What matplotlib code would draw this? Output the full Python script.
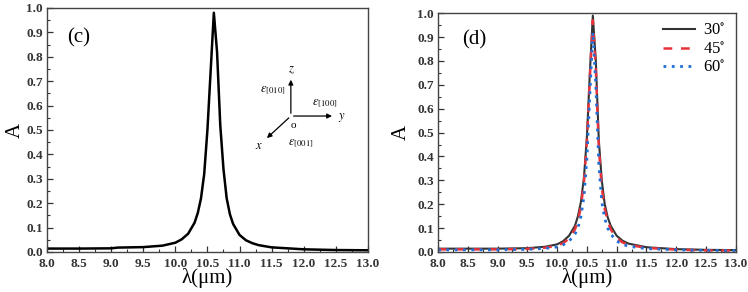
import matplotlib
matplotlib.use("Agg")
import matplotlib.pyplot as plt
from matplotlib.ticker import MultipleLocator, FormatStrFormatter

plt.rcParams['font.family'] = ['Liberation Serif', 'DejaVu Serif']
plt.rcParams['mathtext.fontset'] = 'stix'

# panel (c): single absorption curve
wl_c = [8.0, 8.5, 9.0, 9.1, 9.5, 9.8, 10.0, 10.1, 10.2, 10.3, 10.35, 10.4, 10.45,
        10.5, 10.55, 10.6, 10.65, 10.7, 10.75, 10.8, 10.85, 10.9, 11.0, 11.1,
        11.2, 11.3, 11.5, 12.0, 12.5, 13.0]
a_c = [0.014, 0.014, 0.015, 0.018, 0.020, 0.026, 0.038, 0.052, 0.075, 0.12, 0.16,
       0.22, 0.32, 0.50, 0.74, 0.98, 0.82, 0.52, 0.34, 0.22, 0.155, 0.115, 0.07,
       0.048, 0.036, 0.028, 0.019, 0.011, 0.008, 0.007]

# panel (d): three incidence angles
wl_d = [8.0, 9.0, 9.5, 9.8, 10.0, 10.1, 10.2, 10.3, 10.35, 10.4, 10.45, 10.5,
        10.55, 10.6, 10.65, 10.7, 10.75, 10.8, 10.85, 10.9, 11.0, 11.1, 11.2,
        11.5, 12.0, 12.5, 13.0]
a_30 = [0.014, 0.014, 0.016, 0.022, 0.032, 0.045, 0.068, 0.11, 0.15, 0.21, 0.31,
        0.48, 0.75, 0.99, 0.80, 0.47, 0.30, 0.20, 0.145, 0.11, 0.068, 0.047,
        0.035, 0.020, 0.012, 0.009, 0.008]
a_45 = [0.011, 0.011, 0.013, 0.018, 0.026, 0.037, 0.056, 0.095, 0.13, 0.19, 0.29,
        0.46, 0.73, 0.97, 0.77, 0.44, 0.27, 0.18, 0.13, 0.095, 0.058, 0.040,
        0.030, 0.017, 0.010, 0.007, 0.006]
a_60 = [0.009, 0.009, 0.011, 0.015, 0.021, 0.030, 0.045, 0.075, 0.10, 0.15, 0.23,
        0.39, 0.66, 0.92, 0.70, 0.37, 0.21, 0.14, 0.10, 0.075, 0.046, 0.032,
        0.024, 0.014, 0.009, 0.007, 0.006]
angles = [r'30$^{\circ}$', r'45$^{\circ}$', r'60$^{\circ}$']

fig = plt.figure(figsize=(7.48, 2.92), dpi=100)
ax1 = fig.add_axes([0.0628, 0.137, 0.429, 0.836])
ax2 = fig.add_axes([0.5856, 0.137, 0.398, 0.818])


def style(ax, ylab_x):
    ax.set_xlim(8.0, 13.0)
    ax.set_ylim(0.0, 1.0)
    ax.xaxis.set_major_locator(MultipleLocator(0.5))
    ax.xaxis.set_minor_locator(MultipleLocator(0.25))
    ax.yaxis.set_major_locator(MultipleLocator(0.1))
    ax.yaxis.set_minor_locator(MultipleLocator(0.05))
    ax.xaxis.set_major_formatter(FormatStrFormatter('%.1f'))
    ax.yaxis.set_major_formatter(FormatStrFormatter('%.1f'))
    ax.tick_params(which='both', direction='in', top=False, right=False,
                   labelsize=9.5, colors='#333333')
    ax.tick_params(axis='x', pad=4)
    ax.tick_params(axis='y', pad=3)
    ax.tick_params(which='major', length=4, width=0.9)
    ax.tick_params(which='minor', length=2.5, width=0.8)
    for lab in ax.get_xticklabels() + ax.get_yticklabels():
        lab.set_fontweight('bold')
    for s in ax.spines.values():
        s.set_color('#444444')
        s.set_linewidth(1.0)
    ax.set_xlabel(u'λ(μm)', fontsize=15, labelpad=-1)
    ax.set_ylabel('A', fontsize=15)
    ax.yaxis.set_label_coords(ylab_x, 0.5)


style(ax1, -0.07)
ax1.plot(wl_c, a_c, color='black', lw=1.8)
ax1.text(0.10, 0.877, '(c)', transform=ax1.transAxes, fontsize=15,
         ha='center', va='center')

# coordinate sketch
o = (0.76, 0.557)
arr = dict(arrowstyle='-|>', color='black', lw=0.9, mutation_scale=7)
for tip in [(0.76, 0.717), (0.897, 0.557), (0.679, 0.459)]:
    ax1.annotate('', xy=tip, xytext=o, xycoords='axes fraction',
                 textcoords='axes fraction', arrowprops=arr)
ax1.text(0.762, 0.745, '$z$', transform=ax1.transAxes, fontsize=9,
         ha='center', va='center')
ax1.text(0.92, 0.553, '$y$', transform=ax1.transAxes, fontsize=9,
         ha='center', va='center')
ax1.text(0.662, 0.435, '$x$', transform=ax1.transAxes, fontsize=9,
         ha='center', va='center')
ax1.text(0.767, 0.52, 'o', transform=ax1.transAxes, fontsize=8,
         ha='center', va='center')
ax1.text(0.705, 0.665, r'$\varepsilon_{[010]}$', transform=ax1.transAxes,
         fontsize=9, ha='center', va='center')
ax1.text(0.865, 0.61, r'$\varepsilon_{[100]}$', transform=ax1.transAxes,
         fontsize=9, ha='center', va='center')
ax1.text(0.79, 0.445, r'$\varepsilon_{[001]}$', transform=ax1.transAxes,
         fontsize=9, ha='center', va='center')

style(ax2, -0.09)
ax2.plot(wl_d, a_30, color='#333333', lw=1.5, label=angles[0])
ax2.plot(wl_d, a_45, color='#e8333a', lw=1.8, ls=(0, (3.5, 3.5)), label=angles[1])
ax2.plot(wl_d, a_60, color='#1f6fd6', lw=2.0, ls=(0, (1, 2)), label=angles[2])
ax2.text(0.12, 0.887, '(d)', transform=ax2.transAxes, fontsize=15,
         ha='center', va='center')
ax2.legend(loc='upper right', frameon=False, fontsize=12, handlelength=1.9,
           handletextpad=0.5, labelspacing=0.15, borderaxespad=0.3,
           borderpad=0.3)

fig.savefig('out.png', dpi=100)
